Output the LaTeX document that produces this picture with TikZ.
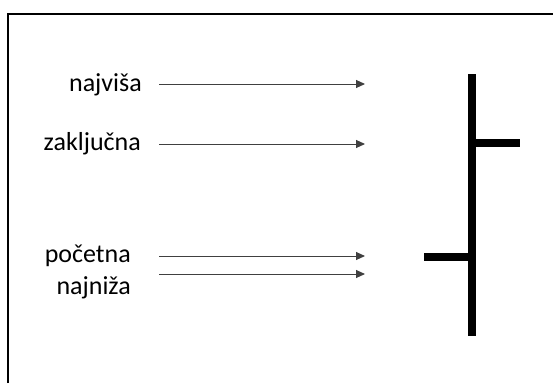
\documentclass[tikz,border=0pt]{standalone}
\usepackage{fontspec}
\setmainfont{Carlito}
\usetikzlibrary{arrows.meta}
\begin{document}
\begin{tikzpicture}[x=1pt,y=-1pt,>={Triangle[length=9pt,width=8pt]}, font=\fontsize{26}{31}\selectfont, line join=miter]
		\useasboundingbox (0,0) rectangle (553,383);
		%	okvir
		\draw[line width=2.5pt] (8,383)--(8,14)--(553,14);
		%	oznake
		\node[anchor=base east,inner sep=0pt] (najvisa) at (142,91) {najviša};
		\node[anchor=base east,inner sep=0pt] (zakljucna) at (141,150) {zaključna};
		\node[anchor=base east,inner sep=0pt] (pocetna) at (131,262) {početna};
		\node[anchor=base east,inner sep=0pt] (najniza) at (131,294) {najniža};
		\coordinate (najvisaA) at (159,84);
		\coordinate (najvisaB) at (365,84);
		\coordinate (zakljucnaA) at (159,144);
		\coordinate (zakljucnaB) at (365,144);
		\coordinate (pocetnaA) at (159,256);
		\coordinate (pocetnaB) at (365,256);
		\coordinate (najnizaA) at (159,274);
		\coordinate (najnizaB) at (365,274);
		\draw[->,black!75,line width=1pt] (najvisaA)--(najvisaB);
		\draw[->,black!75,line width=1pt] (zakljucnaA)--(zakljucnaB);
		\draw[->,black!75,line width=1pt] (pocetnaA)--(pocetnaB);
		\draw[->,black!75,line width=1pt] (najnizaA)--(najnizaB);
		%	svijeca
		\draw[line width=8pt] (472,74)--(472,336);
		\draw[line width=8pt] (472,143)--(520,143) (424,257)--(472,257);
\end{tikzpicture}
\end{document}
